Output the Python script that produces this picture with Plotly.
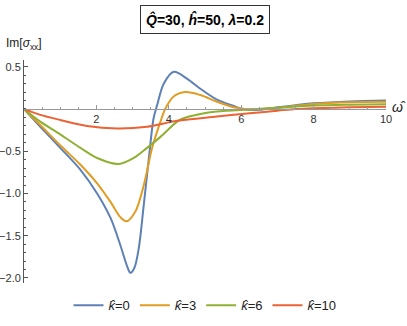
import plotly.graph_objects as go

# data (omega-hat, Im[sigma_xx])
omega_k0 = [0, 0.45, 1.0, 1.56, 2.02, 2.39, 2.66, 2.84, 2.94, 3.05, 3.17, 3.31, 3.45, 3.58, 3.68,
            3.86, 4.14, 4.5, 4.87, 5.33, 5.79, 6.04, 6.5, 7.0, 7.5, 8.0, 9.0, 10]
sigma_k0 = [0, -0.21, -0.46, -0.72, -1.0, -1.29, -1.61, -1.85, -1.94, -1.88, -1.65, -1.13, -0.58,
            -0.11, 0.05, 0.30, 0.44, 0.36, 0.24, 0.11, 0.035, 0.0, -0.01, 0.02, 0.045, 0.067, 0.09, 0.1]

omega_k3 = [0, 0.45, 1.0, 1.56, 2.02, 2.39, 2.66, 2.83, 3.08, 3.31, 3.54, 3.77, 3.9,
            4.14, 4.46, 4.87, 5.33, 5.79, 6.1, 6.6, 7.0, 8.0, 9.0, 10]
sigma_k3 = [0, -0.19, -0.43, -0.66, -0.88, -1.10, -1.28, -1.33, -1.21, -0.90, -0.46, -0.15, 0.0,
            0.15, 0.20, 0.165, 0.085, 0.02, 0.0, 0.0, 0.015, 0.06, 0.08, 0.086]

omega_k6 = [0, 0.45, 1.0, 1.56, 2.02, 2.62, 3.03, 3.40, 3.77, 4.23, 4.41, 4.87, 5.33, 6.24,
            7.0, 8.0, 9.0, 10]
sigma_k6 = [0, -0.15, -0.30, -0.46, -0.58, -0.65, -0.58, -0.46, -0.33, -0.15, -0.11, -0.06, -0.03,
            -0.005, 0.015, 0.04, 0.05, 0.055]

omega_k10 = [0, 0.45, 1.0, 1.74, 2.57, 3.4, 4.23, 5.33, 6.24, 7.0, 7.5, 8.0, 9.0, 10]
sigma_k10 = [0, -0.07, -0.13, -0.20, -0.23, -0.21, -0.14, -0.09, -0.05, -0.02, 0.0, 0.01, 0.02, 0.027]

series = [
    ('<i>k̂</i>=0', omega_k0, sigma_k0, '#5E81B5'),
    ('<i>k̂</i>=3', omega_k3, sigma_k3, '#E19C24'),
    ('<i>k̂</i>=6', omega_k6, sigma_k6, '#8FB032'),
    ('<i>k̂</i>=10', omega_k10, sigma_k10, '#EB6235'),
]

x_ticks = [2, 4, 6, 8, 10]
y_ticks = [0.5, -0.5, -1.0, -1.5, -2.0]
y_labels = ['0.5', '−0.5', '−1.0', '−1.5', '−2.0']

y_lo, y_hi = -2.06, 0.58

fig = go.Figure()
for name, xs, ys, col in series:
    fig.add_trace(go.Scatter(x=xs, y=ys, mode='lines', name=name,
                             line=dict(color=col, width=2, shape='spline', smoothing=0.9)))

font = 'Liberation Sans, Arial, sans-serif'
fig.update_layout(
    width=407, height=326,
    margin=dict(l=24, r=21, t=60, b=43, autoexpand=False),
    paper_bgcolor='white', plot_bgcolor='white',
    font=dict(family=font, size=11, color='#333'),
    showlegend=True,
    legend=dict(orientation='h', x=0.5, xanchor='center', y=-0.1, yanchor='middle',
                font=dict(size=13, color='#222'), itemwidth=30),
)
fig.update_xaxes(
    range=[0, 10], anchor='free', position=-y_lo / (y_hi - y_lo), automargin=False,
    showgrid=False, zeroline=False, showline=True, linecolor='#999', linewidth=1.2,
    tickmode='array', tickvals=x_ticks, ticks='inside', ticklen=4, tickcolor='#999',
    minor=dict(ticks='inside', ticklen=2, dtick=0.5, tick0=0, tickcolor='#999'),
)
fig.update_yaxes(
    range=[y_lo, y_hi], automargin=False,
    showgrid=False, zeroline=False, showline=True, linecolor='#555', linewidth=1,
    tickmode='array', tickvals=y_ticks, ticktext=y_labels, ticks='inside', ticklen=4,
    tickcolor='#555',
    minor=dict(ticks='inside', ticklen=2, dtick=0.1, tick0=0, tickcolor='#555'),
)

fig.add_annotation(xref='paper', yref='paper', x=0.5, y=1.18, xanchor='center', yanchor='middle',
                   showarrow=False, text='<b><i>Q̂</i>=30, <i>ĥ</i>=50, <i>λ</i>=0.2</b>',
                   font=dict(size=14, color='black'), bordercolor='#333', borderwidth=1,
                   borderpad=5, bgcolor='white')
fig.add_annotation(xref='paper', yref='paper', x=-0.055, y=1.07, xanchor='left', yanchor='middle',
                   showarrow=False, text='Im[<i>σ</i><sub>xx</sub>]', font=dict(size=12, color='#222'))
fig.add_annotation(xref='paper', yref='paper', x=1.012, y=0.79, xanchor='left', yanchor='middle',
                   showarrow=False, text='<i>ω̂</i>', font=dict(size=14, color='#222'))

# the page body has a default 8px margin; drop it so the figure fills the window
fig.write_html("out.html", config={'displayModeBar': False},
               post_script="document.body.style.margin='0';")
